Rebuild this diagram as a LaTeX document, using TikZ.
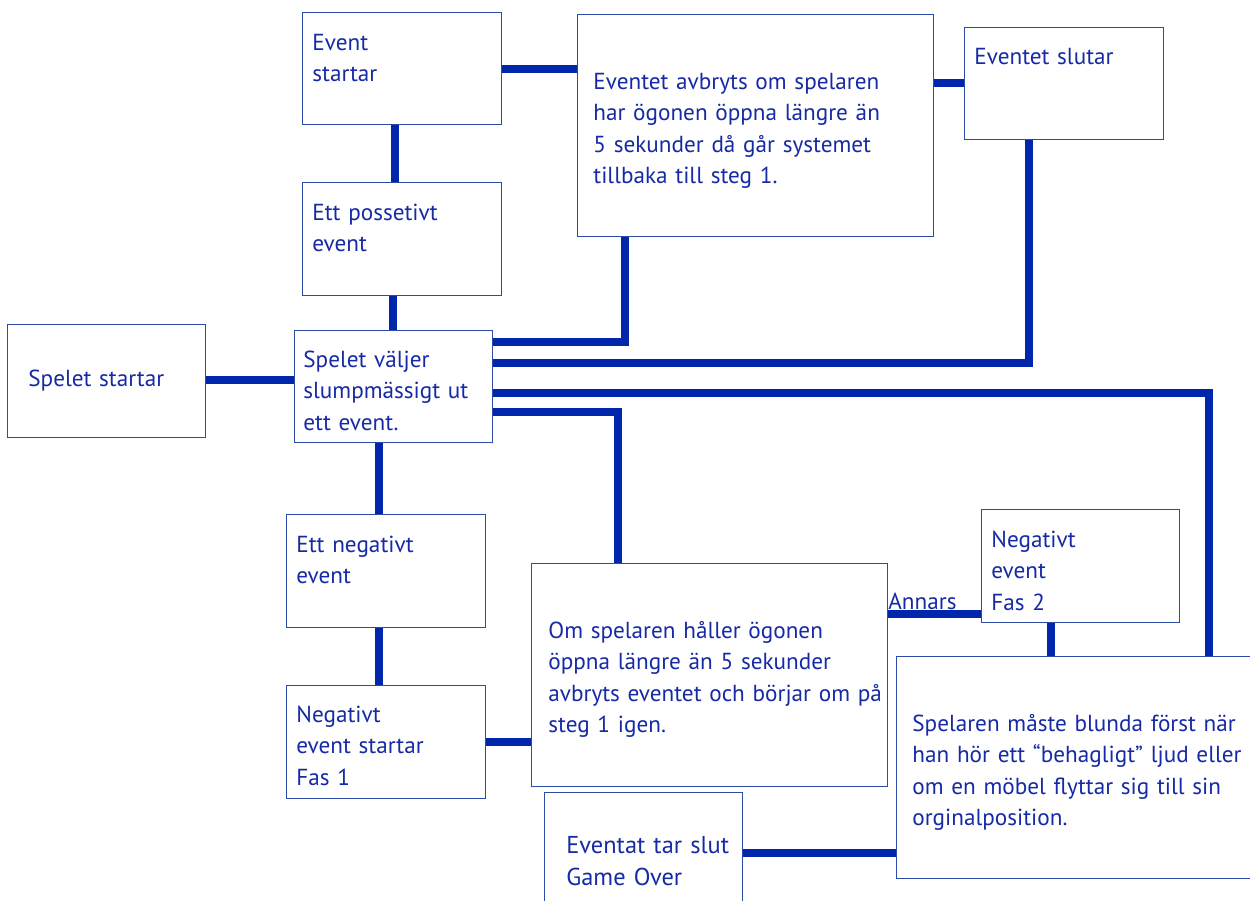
\documentclass[tikz,border=0pt]{standalone}
\usepackage{fontspec}
\setmainfont{PT Sans}
\usetikzlibrary{positioning}
\definecolor{inkblue}{RGB}{22,42,165}
\definecolor{edgeblue}{RGB}{45,75,165}
\definecolor{wireblue}{RGB}{0,38,172}

\begin{document}
\begin{tikzpicture}[
  x=0.5pt, y=-0.5pt,
  font=\fontsize{11.6}{15.8}\selectfont,
  box/.style={draw=edgeblue,line width=0.6pt,fill=white,inner sep=0pt,
              anchor=north west},
  txt/.style={text=inkblue,align=left,anchor=base west,inner sep=0pt,
              text width=#1},
  txt/.default=96pt,
  wire/.style={draw=wireblue,line width=3.75pt},
]
\useasboundingbox (0,0) rectangle (1250,901);

% ---- left column: start, chooser, the two kinds of event ----
\node[box,minimum width=99pt,minimum height=56.5pt] (spstart) at (7,324) {};
\node[txt] (spstart-t) at (28,386) {Spelet startar};

\node[box,minimum width=99.5pt,minimum height=56pt] (evstart) at (302,12) {};
\node[txt] (evstart-t) at (312,50) {Event\\startar};

\node[box,minimum width=99.5pt,minimum height=56.5pt] (posev) at (302,182) {};
\node[txt] (posev-t) at (312,220) {Ett possetivt\\event};

\node[box,minimum width=99pt,minimum height=56pt] (valj) at (294,330) {};
\node[txt] (valj-t) at (303,367) {Spelet väljer\\slumpmässigt ut\\ett event.};

\node[box,minimum width=99.5pt,minimum height=56.5pt] (negev) at (286,514) {};
\node[txt] (negev-t) at (296,552) {Ett negativt\\event};

\node[box,minimum width=99.5pt,minimum height=56.5pt] (fas1) at (286,685) {};
\node[txt] (fas1-t) at (296,722) {Negativt\\event startar\\Fas 1};

% ---- top right: abort rule and the end ----
\node[box,minimum width=178pt,minimum height=111pt] (avbryt) at (577,14) {};
\node[txt=172pt] (avbryt-t) at (593,89)
     {Eventet avbryts om spelaren\\har ögonen öppna längre än\\
      5 sekunder då går systemet\\tillbaka till steg 1.};

\node[box,minimum width=99.5pt,minimum height=56pt] (slut) at (964,27) {};
\node[txt] (slut-t) at (974,64) {Eventet slutar};

% ---- bottom right: negative event, phase 2 ----
\node[box,minimum width=178pt,minimum height=111.5pt] (omsp) at (531,563) {};
\node[txt=172pt] (omsp-t) at (548,638)
     {Om spelaren håller ögonen\\öppna längre än 5 sekunder\\
      avbryts eventet och börjar om på\\steg 1 igen.};

\node[box,minimum width=99pt,minimum height=56.5pt] (fas2) at (981,509) {};
\node[txt] (fas2-t) at (991,547) {Negativt\\event\\Fas 2};

\node[box,minimum width=181pt,minimum height=111pt] (maste) at (896,656) {};
\node[txt=172pt] (maste-t) at (912,731)
     {Spelaren måste blunda först när\\han hör ett “behagligt” ljud eller\\
      om en möbel flyttar sig till sin\\orginalposition.};

\node[box,minimum width=99pt,minimum height=57pt] (gameover) at (544,792) {};
\node[txt,font=\fontsize{12.2}{16}\selectfont] (gameover-t) at (566,853)
     {Eventat tar slut\\Game Over};

% ---- connectors ----
\draw[wire] (spstart.east |- 0,380) -- (valj.west |- 0,380);
\draw[wire] (395,0 |- evstart.south) -- (395,0 |- posev.north);
\draw[wire] (393,0 |- posev.south) -- (393,0 |- valj.north);
\draw[wire] (evstart.east |- 0,69) -- (avbryt.west |- 0,69);
\draw[wire] (avbryt.east |- 0,83) -- (slut.west |- 0,83);

% four wires leave the chooser on its right side
\draw[wire] (valj.east |- 0,342) -| (625,0 |- avbryt.south);
\draw[wire] (valj.east |- 0,363) -| (1029,0 |- slut.south);
\draw[wire] (valj.east |- 0,393) -| (1209,0 |- maste.north);
\draw[wire] (valj.east |- 0,412) -| (618,0 |- omsp.north);

\draw[wire] (379,0 |- valj.south) -- (379,0 |- negev.north);
\draw[wire] (379,0 |- negev.south) -- (379,0 |- fas1.north);
\draw[wire] (fas1.east |- 0,742) -- (omsp.west |- 0,742);

\draw[wire] (omsp.east |- 0,614) -- (fas2.west |- 0,614);
\node[txt] (annars) at (888,609) {Annars};
\draw[wire] (1051,0 |- fas2.south) -- (1051,0 |- maste.north);
\draw[wire] (gameover.east |- 0,853) -- (maste.west |- 0,853);

\end{tikzpicture}
\end{document}
